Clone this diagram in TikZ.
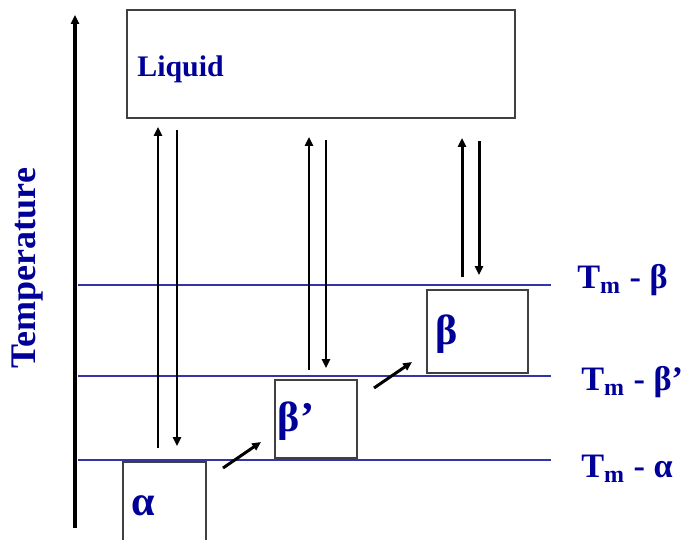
\documentclass[tikz,border=0pt]{standalone}
\usepackage{fontspec}
\setmainfont{Liberation Serif}
\usetikzlibrary{arrows.meta}
\definecolor{navy}{HTML}{000099}
\definecolor{rulecol}{HTML}{3333AA}
\definecolor{framecol}{HTML}{404040}

\begin{document}
\begin{tikzpicture}[
    x=0.02cm, y=-0.02cm,
    every node/.style={font=\bfseries, text=navy},
    phase/.style={rectangle, draw=framecol, line width=0.9pt, inner sep=0pt},
    greek/.style={font=\bfseries\fontsize{24}{26}\selectfont, text=navy},
    tlab/.style={font=\bfseries\fontsize{19.5}{21}\selectfont, text=navy,
                 anchor=base west, inner sep=0pt},
    level/.style={draw=rulecol, line width=0.6pt},
    arr/.style={-{Triangle[length=5pt, width=4.5pt]}, line width=1.7pt, black},
]
\useasboundingbox (0,0) rectangle (686,539);

% temperature axis
\coordinate (axbot) at (75,528);
\coordinate (axtop) at (75,15);
\draw[arr, line width=1.8pt] (axbot) -- (axtop);
\node[rotate=90, font=\bfseries\fontsize{20.5}{22}\selectfont] (temp) at (28,268) {Temperature};

% melting points
\foreach \n/\y/\xl/\yl/\lab in {b/285/577/288/{β}, bp/376/581/390/{β’}, a/460/581/477/{α}}{
    \coordinate (l\n) at (78,\y);
    \coordinate (r\n) at (551,\y);
    \draw[level] (l\n) -- (r\n);
    \node[tlab] (tm\n) at (\xl,\yl) {T\textsubscript{m} - \lab};
}

% phases
\node[phase, minimum width=7.76cm, minimum height=2.16cm] (liquid) at (321,64) {};
\node[anchor=west, inner sep=0pt, font=\bfseries\fontsize{17}{19}\selectfont] (liqlab) at (137,69) {Liquid};
\node[phase, minimum width=1.66cm, minimum height=1.72cm] (alpha) at (164.5,505) {};
\node[phase, minimum width=1.64cm, minimum height=1.56cm] (betap) at (316,419) {};
\node[phase, minimum width=2.02cm, minimum height=1.66cm] (beta) at (477.5,331.5) {};
\node[greek] (alab) at (143,506) {α};
\node[greek] (bplab) at (296,421) {β’};
\node[greek] (blab) at (447,334) {β};

% melting / crystallising
\foreach \i/\xu/\xd/\yb/\yt in {1/158/177/448/127, 2/309/326/370/137, 3/462/479/277/138}{
    \coordinate (ub\i) at (\xu,\yb);
    \coordinate (ut\i) at (\xu,\yt);
    \coordinate (dt\i) at (\xd,\yt+3);
    \coordinate (db\i) at (\xd,\yb-2);
    \draw[arr] (ub\i) -- (ut\i);
    \draw[arr] (dt\i) -- (db\i);
}

% transformations
\coordinate (ab1) at (223,468);
\coordinate (ab2) at (261,442);
\coordinate (bb1) at (374,388);
\coordinate (bb2) at (412,362);
\draw[arr] (ab1) -- (ab2);
\draw[arr] (bb1) -- (bb2);
\end{tikzpicture}
\end{document}
